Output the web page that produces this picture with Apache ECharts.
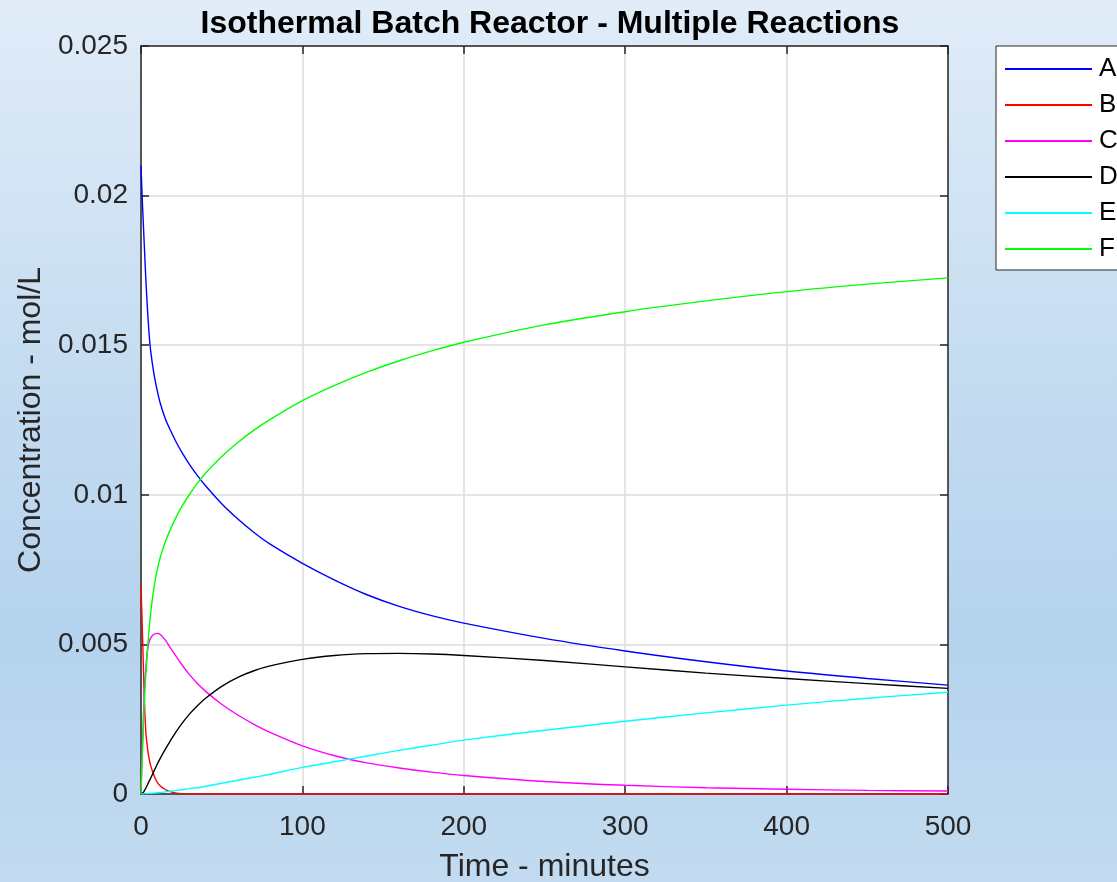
<!DOCTYPE html>
<html>
<head>
<meta charset="utf-8">
<script src="https://cdn.jsdelivr.net/npm/echarts@6/dist/echarts.min.js"></script>
<style>
html,body{margin:0;padding:0;width:1117px;height:882px;overflow:hidden;}
#chart{width:1117px;height:882px;}
</style>
</head>
<body>
<div id="chart"></div>
<script>
const titleText = 'Isothermal Batch Reactor - Multiple Reactions';
const xName = 'Time - minutes';
const yName = 'Concentration - mol/L';
const seriesNames = ['A', 'B', 'C', 'D', 'E', 'F'];
const seriesColors = ['#0000ff', '#ff0000', '#ff00ff', '#000000', '#00ffff', '#00ff00'];

const time = [0, 1, 2, 3, 4, 5, 6, 8, 10, 12, 15, 18, 22, 26, 30, 35, 40, 50, 60, 70, 80, 100, 120, 140, 160, 180, 200, 250, 300, 350, 400, 450, 500];

const concA = [0.0210, 0.0196, 0.0184, 0.0172, 0.0162, 0.0154, 0.0148, 0.01405, 0.0135, 0.01305, 0.01255, 0.01218, 0.01174, 0.01136, 0.01102, 0.01064, 0.0103, 0.0097, 0.00919, 0.00874, 0.00835, 0.00771, 0.00715, 0.00666, 0.00627, 0.00596, 0.00571, 0.0052, 0.00478, 0.00442, 0.00411, 0.00386, 0.00364];
const concB = [0.0070, 0.0052, 0.0033, 0.00206, 0.00155, 0.00118, 0.00095, 0.00063, 0.0004, 0.00027, 0.00015, 0.00008, 0.00003, 0.00001, 0, 0, 0, 0, 0, 0, 0, 0, 0, 0, 0, 0, 0, 0, 0, 0, 0, 0, 0];
const concC = [0, 0.0018, 0.0033, 0.0042, 0.0048, 0.00508, 0.00522, 0.00534, 0.00537, 0.00533, 0.00515, 0.0049, 0.00458, 0.00427, 0.00399, 0.00369, 0.00343, 0.003, 0.00264, 0.00233, 0.00206, 0.00161, 0.00128, 0.00104, 0.00087, 0.00073, 0.00062, 0.00042, 0.00029, 0.00021, 0.00016, 0.00012, 0.0001];
const concD = [0, 0.00003, 0.0001, 0.0002, 0.00031, 0.00042, 0.00053, 0.00076, 0.00099, 0.0012, 0.00149, 0.00176, 0.0021, 0.0024, 0.00267, 0.00295, 0.0032, 0.0036, 0.0039, 0.00412, 0.00428, 0.0045, 0.00463, 0.00469, 0.0047, 0.00468, 0.00463, 0.00446, 0.00425, 0.00404, 0.00386, 0.00369, 0.00353];
const concE = [0, 0.000001, 0.000003, 0.000006, 0.00001, 0.000015, 0.00002, 0.00003, 0.00004, 0.00005, 0.00007, 0.00009, 0.00012, 0.00015, 0.00018, 0.00021, 0.00026, 0.00036, 0.00046, 0.00056, 0.00066, 0.00089, 0.00108, 0.00127, 0.00146, 0.00163, 0.0018, 0.00213, 0.00243, 0.00271, 0.00297, 0.0032, 0.0034];
const concF = [0, 0.0016, 0.0030, 0.0040, 0.0048, 0.0055, 0.00605, 0.00688, 0.00748, 0.00792, 0.00842, 0.00882, 0.00928, 0.00967, 0.01001, 0.01039, 0.01072, 0.01128, 0.01175, 0.01216, 0.01252, 0.01315, 0.01366, 0.0141, 0.01448, 0.01481, 0.0151, 0.01568, 0.01612, 0.01648, 0.01679, 0.01704, 0.01725];

const xTicks = [0, 100, 200, 300, 400, 500];
const yTickLabels = ['0', '0.005', '0.01', '0.015', '0.02', '0.025'];

const allConc = [concA, concB, concC, concD, concE, concF];

const chart = echarts.init(document.getElementById('chart'), null, {renderer: 'canvas'});
const FONT = '"Liberation Sans", Arial, Helvetica, sans-serif';
const axisCol = '#262626';

const series = seriesNames.map((n, i) => ({
  name: n,
  type: 'line',
  xAxisIndex: 0,
  yAxisIndex: 0,
  data: time.map((t, j) => [t, allConc[i][j]]),
  showSymbol: false,
  smooth: 0.3,
  lineStyle: {color: seriesColors[i], width: 1.4},
  itemStyle: {color: seriesColors[i]},
  emphasis: {disabled: true},
  animation: false
}));

const option = {
  animation: false,
  backgroundColor: {
    type: 'linear', x: 0, y: 0, x2: 0, y2: 1,
    colorStops: [
      {offset: 0, color: '#e1ecf8'},
      {offset: 0.45, color: '#c3dbf0'},
      {offset: 0.72, color: '#b5d3ee'},
      {offset: 1, color: '#c2dbf0'}
    ]
  },
  title: {
    text: titleText,
    left: 545,
    textAlign: 'center',
    top: 3,
    textStyle: {fontFamily: FONT, fontSize: 32, fontWeight: 'bold', color: '#000'}
  },
  legend: {
    data: seriesNames,
    orient: 'vertical',
    left: 996,
    top: 46,
    itemWidth: 87,
    itemHeight: 2,
    itemGap: 10,
    icon: 'rect',
    padding: [10, 40, 8, 9],
    backgroundColor: '#ffffff',
    borderColor: '#262626',
    borderWidth: 1,
    borderRadius: 0,
    textStyle: {fontFamily: FONT, fontSize: 26, color: '#000', padding: [0, 0, 0, 2]},
    selectedMode: false
  },
  grid: {left: 141, right: 169, top: 46, bottom: 88, show: true, backgroundColor: '#ffffff', borderWidth: 0,
    containLabel: false, outerBoundsMode: 'none'},
  xAxis: [{
    type: 'value', min: 0, max: 500, interval: 100,
    name: xName, nameLocation: 'middle', nameGap: 57,
    nameTextStyle: {fontFamily: FONT, fontSize: 32, color: axisCol},
    axisLine: {show: true, onZero: false, lineStyle: {color: axisCol, width: 1.5}},
    axisTick: {show: true, inside: true, length: 8, lineStyle: {color: axisCol, width: 1.5}},
    axisLabel: {fontFamily: FONT, fontSize: 28, color: axisCol, margin: 19, formatter: v => xTicks.includes(v) ? String(v) : ''},
    splitLine: {show: true, lineStyle: {color: '#dcdcdc', width: 1.5}}
  }, {
    type: 'value', min: 0, max: 500, interval: 100, position: 'top',
    axisLine: {show: true, onZero: false, lineStyle: {color: axisCol, width: 1.5}},
    axisTick: {show: true, inside: true, length: 8, lineStyle: {color: axisCol, width: 1.5}},
    axisLabel: {show: false}, splitLine: {show: false}
  }],
  yAxis: [{
    type: 'value', min: 0, max: 0.025, interval: 0.005,
    name: yName, nameLocation: 'middle', nameGap: 94,
    nameTextStyle: {fontFamily: FONT, fontSize: 32, color: axisCol},
    axisLine: {show: true, onZero: false, lineStyle: {color: axisCol, width: 1.5}},
    axisTick: {show: true, inside: true, length: 8, lineStyle: {color: axisCol, width: 1.5}},
    axisLabel: {fontFamily: FONT, fontSize: 28, color: axisCol, margin: 13,
      formatter: (v) => yTickLabels[Math.round(v / 0.005)]},
    splitLine: {show: true, lineStyle: {color: '#dcdcdc', width: 1.5}}
  }, {
    type: 'value', min: 0, max: 0.025, interval: 0.005, position: 'right',
    axisLine: {show: true, onZero: false, lineStyle: {color: axisCol, width: 1.5}},
    axisTick: {show: true, inside: true, length: 8, lineStyle: {color: axisCol, width: 1.5}},
    axisLabel: {show: false}, splitLine: {show: false}
  }],
  series: series
};
chart.setOption(option);
</script>
</body>
</html>
